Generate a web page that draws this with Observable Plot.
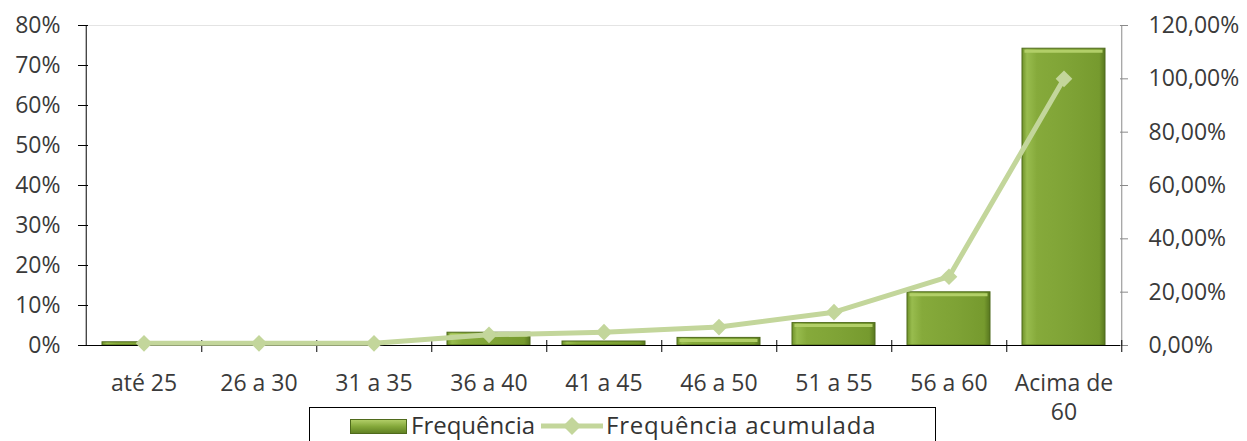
<!DOCTYPE html>
<html>
<head>
<meta charset="utf-8">
<script src="https://cdn.jsdelivr.net/npm/d3@7"></script>
<script src="https://cdn.jsdelivr.net/npm/@observablehq/plot@0.6"></script>
<style>
  body { margin: 0; background: #fff; font-family: "Open Sans", sans-serif; }
  #wrap { position: relative; width: 1247px; height: 441px; overflow: hidden; background: #fff; }
  #legend { position: absolute; left: 309px; top: 407px; width: 627px; height: 44px; border: 1px solid #000; box-sizing: border-box; background: #fff; color: #333; font-size: 24px; }
  #legend .item { position: absolute; top: 0; height: 34px; line-height: 34px; white-space: nowrap; }
  #legend svg { position: absolute; }
</style>
</head>
<body>
<div id="wrap"></div>
<script>
// ---- data ----
const categories = ["até 25", "26 a 30", "31 a 35", "36 a 40", "41 a 45", "46 a 50", "51 a 55", "56 a 60", "Acima de\n60"];
const frequencia = [0.8, 0, 0, 3.2, 1.0, 1.9, 5.6, 13.3, 74.2];
const acumulada  = [0.8, 0.8, 0.8, 4.0, 5.0, 6.9, 12.5, 25.8, 100.0];
const leftTicks  = [0, 10, 20, 30, 40, 50, 60, 70, 80];
const rightTicks = [0, 20, 40, 60, 80, 100, 120];
const seriesNames = ["Frequência", "Frequência acumulada"];

// ---- layout ----
const W = 1247, H = 441;
const mL = 83, mR = 124, mT = 25, mB = 96;
const step = (W - mL - mR) / categories.length;
const leftMax = leftTicks[leftTicks.length - 1];
const rightMax = rightTicks[rightTicks.length - 1];
const k = leftMax / rightMax;

const data = categories.map((c, i) => ({cat: c, freq: frequencia[i], cum: acumulada[i]}));

const lineColor = "#c3d69b";
const textColor = "#3a3a3a";

const defs = () => {
  const d = d3.create("svg:defs");
  const g = d.append("linearGradient").attr("id", "barGrad").attr("x1", 0).attr("x2", 1).attr("y1", 0).attr("y2", 0);
  [[0, "#6f9229"], [0.06, "#98bc4e"], [0.18, "#86aa3b"], [0.6, "#7ea235"], [0.93, "#769a2e"], [1, "#58771f"]]
    .forEach(([o, c]) => g.append("stop").attr("offset", o).attr("stop-color", c));
  return d.node();
};

const chart = Plot.plot({
  width: W,
  height: H,
  marginLeft: mL,
  marginRight: mR,
  marginTop: mT,
  marginBottom: mB,
  style: {fontFamily: "Open Sans, sans-serif", fontSize: "23px", color: textColor, background: "#fff"},
  x: {type: "band", domain: categories, paddingInner: 0.28, paddingOuter: 0.14, label: null},
  y: {domain: [0, leftMax], label: null},
  marks: [
    defs,
    Plot.ruleY([leftMax], {stroke: "#e4e4e4"}),
    Plot.barY(data, {x: "cat", y: "freq", fill: "url(#barGrad)", stroke: "#4f6a1c", strokeWidth: 1}),
    // bevel highlight along the top of the taller bars
    Plot.tickY(data.filter(d => d.freq > 1.5), {x: "cat", y: "freq", stroke: "#b2cf68", strokeWidth: 3, dy: 2.5, inset: 2.5}),
    Plot.ruleY([0], {stroke: "#000"}),
    Plot.ruleX([categories[0]], {dx: -step / 2, y1: 0, y2: leftMax, stroke: "#000"}),
    Plot.ruleX([categories[categories.length - 1]], {dx: step / 2, y1: 0, y2: leftMax, stroke: "#8a8a8a"}),
    // left axis (ticks crossing the line)
    Plot.axisY(leftTicks, {anchor: "left", tickSize: 10, insetLeft: 5, tickPadding: 18, tickFormat: d => d + "%", fill: textColor, stroke: "#000"}),
    // right axis
    Plot.axisY(rightTicks.map(v => v * k), {anchor: "right", tickSize: 8, insetRight: 4, tickPadding: 21, tickFormat: d => (d / k).toFixed(2).replace(".", ",") + "%", fill: textColor, stroke: "#8a8a8a"}),
    // category boundary ticks
    Plot.axisX(categories, {anchor: "bottom", tickSize: 12, insetBottom: 5, dx: step / 2, tickFormat: () => "", stroke: "#000"}),
    // category labels
    Plot.axisX(categories, {anchor: "bottom", tickSize: 0, tickPadding: 25, lineHeight: 1.26, fill: textColor}),
    // cumulative line
    Plot.line(data, {x: "cat", y: d => d.cum * k, stroke: lineColor, strokeWidth: 5}),
    Plot.dot(data, {x: "cat", y: d => d.cum * k, symbol: "diamond2", r: 7.5, fill: lineColor, stroke: "none"})
  ]
});

const wrap = document.getElementById("wrap");
wrap.appendChild(chart);

// ---- legend ----
const legend = document.createElement("div");
legend.id = "legend";
legend.innerHTML = `
  <svg style="left:40px;top:11px" width="57" height="15">
    <defs><linearGradient id="legGrad" x1="0" x2="0" y1="0" y2="1">
      <stop offset="0" stop-color="#b4d06a"/><stop offset="0.5" stop-color="#84a83a"/><stop offset="1" stop-color="#5f7f22"/>
    </linearGradient></defs>
    <rect x="0.5" y="0.5" width="56" height="14" fill="url(#legGrad)" stroke="#4f6a1c"/>
  </svg>
  <div class="item" style="left:101px">${seriesNames[0]}</div>
  <svg style="left:231px;top:8px" width="62" height="20">
    <line x1="0" x2="62" y1="10" y2="10" stroke="${lineColor}" stroke-width="5"/>
    <path d="M31,1 L40,10 L31,19 L22,10 Z" fill="${lineColor}"/>
  </svg>
  <div class="item" style="left:296px;letter-spacing:0.8px">${seriesNames[1]}</div>
`;
wrap.appendChild(legend);
</script>
</body>
</html>
